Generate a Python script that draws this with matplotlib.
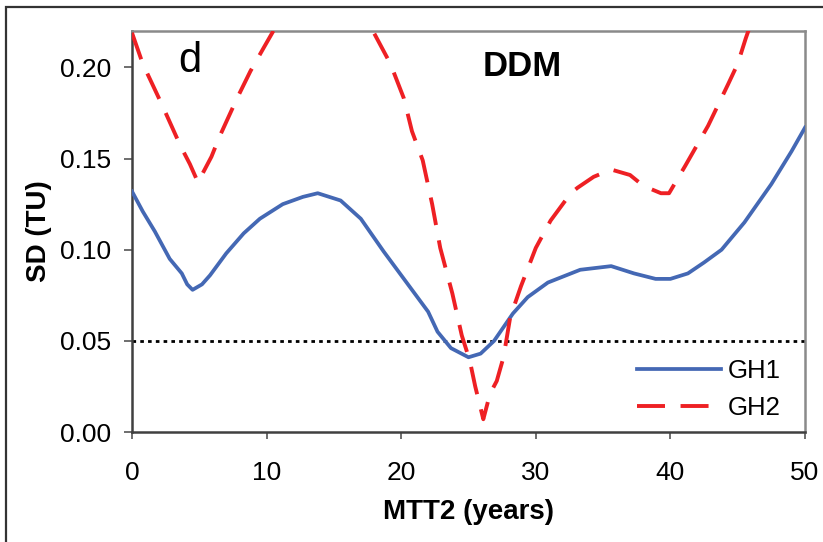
import matplotlib
matplotlib.use("Agg")
import matplotlib.pyplot as plt
from matplotlib.patches import Rectangle
import numpy as np

plt.rcParams['font.family'] = ['Liberation Sans', 'DejaVu Sans']

# GH1 (solid blue)
gh1_x = [0, 0.8, 1.7, 2.8, 3.7, 4.1, 4.5, 5.2, 5.8, 7.0, 8.3, 9.5, 11.2, 12.7, 13.8,
         15.5, 17.0, 18.7, 20.5, 22.0, 22.7, 23.7, 25.0, 25.9, 26.9, 28.3, 29.4, 30.9,
         33.3, 35.6, 37.3, 38.9, 40.0, 41.3, 42.5, 43.8, 45.5, 47.5, 49.0, 50.0]
gh1_y = [0.132, 0.121, 0.110, 0.095, 0.087, 0.081, 0.078, 0.081, 0.086, 0.098, 0.109, 0.117,
         0.125, 0.129, 0.131, 0.127, 0.117, 0.099, 0.081, 0.066, 0.055, 0.046, 0.041, 0.043,
         0.050, 0.065, 0.074, 0.082, 0.089, 0.091, 0.087, 0.084, 0.084, 0.087, 0.093, 0.100,
         0.115, 0.136, 0.154, 0.167]

# GH2 (dashed red)
gh2_x = [0, 0.8, 2.2, 3.6, 4.3, 4.9, 5.9, 6.5, 7.8, 8.8, 9.8, 10.5, 12.0, 14.0, 16.0,
         17.9, 19.2, 20.2, 20.8, 21.6, 22.3, 22.9, 23.8, 24.5, 25.1, 25.5, 26.0, 26.1,
         26.6, 27.1, 27.6, 28.1, 28.9, 30.0, 31.1, 32.6, 33.1, 34.3, 35.6, 37.0, 38.0,
         39.3, 39.9, 41.1, 42.8, 44.3, 45.0, 45.6, 46.5, 47.5]
gh2_y = [0.219, 0.202, 0.180, 0.157, 0.147, 0.137, 0.151, 0.162, 0.183, 0.198, 0.211, 0.220,
         0.236, 0.245, 0.238, 0.220, 0.202, 0.183, 0.165, 0.149, 0.125, 0.101, 0.076, 0.053,
         0.039, 0.025, 0.010, 0.007, 0.021, 0.028, 0.041, 0.063, 0.080, 0.101, 0.116, 0.131,
         0.134, 0.140, 0.144, 0.141, 0.135, 0.131, 0.131, 0.146, 0.168, 0.191, 0.202, 0.216,
         0.235, 0.255]

threshold = 0.05
x_ticks = [0, 10, 20, 30, 40, 50]
y_ticks = [0.00, 0.05, 0.10, 0.15, 0.20]

fig = plt.figure(figsize=(8.23, 5.42), dpi=100)
fig.patches.append(Rectangle((6/823, -0.05), 1.2, 1 - 7/542 + 0.05, transform=fig.transFigure,
                             fill=False, edgecolor='#333333', linewidth=1.6))
ax = fig.add_axes([132/823, 1 - 432/542, (805-132)/823, (432-31)/542])

ax.plot(gh1_x, gh1_y, color='#4468B4', linewidth=2.7, label='GH1', zorder=3)
ax.plot(gh2_x, gh2_y, color='#EE2024', linewidth=2.8, dashes=(7.2, 4), label='GH2', zorder=4)
ax.axhline(threshold, color='black', linewidth=2.0, dashes=(1.3, 1.5), zorder=2)

ax.set_xlim(0, 50)
ax.set_ylim(0, 0.22)
ax.set_xticks(x_ticks)
ax.set_yticks(y_ticks)
ax.set_yticklabels([f"{v:.2f}" for v in y_ticks])
ax.tick_params(axis='y', direction='out', length=6, width=1.2, color='#555555', pad=9, labelsize=19)
ax.tick_params(axis='x', direction='out', length=5, width=1.2, color='#555555', pad=16, labelsize=19)

for s in ['left', 'bottom']:
    ax.spines[s].set_color('#404040')
    ax.spines[s].set_linewidth(1.8)
for s in ['top', 'right']:
    ax.spines[s].set_color('#8a8a8a')
    ax.spines[s].set_linewidth(1.8)

ax.set_xlabel('MTT2 (years)', fontsize=20, fontweight='bold', labelpad=10)
ax.set_ylabel('SD (TU)', fontsize=20, fontweight='bold', labelpad=6)

ax.text(4.3, 0.2035, 'd', fontsize=30, ha='center', va='center')
ax.text(29.0, 0.2005, 'DDM', fontsize=25, fontweight='bold', ha='center', va='center')

ax.legend(loc='lower right', bbox_to_anchor=(0.99, -0.014), frameon=False, fontsize=18.5,
          handlelength=3.25, handletextpad=0.25, labelspacing=0.5, borderaxespad=0.3)

fig.savefig('out.png', dpi=100)
